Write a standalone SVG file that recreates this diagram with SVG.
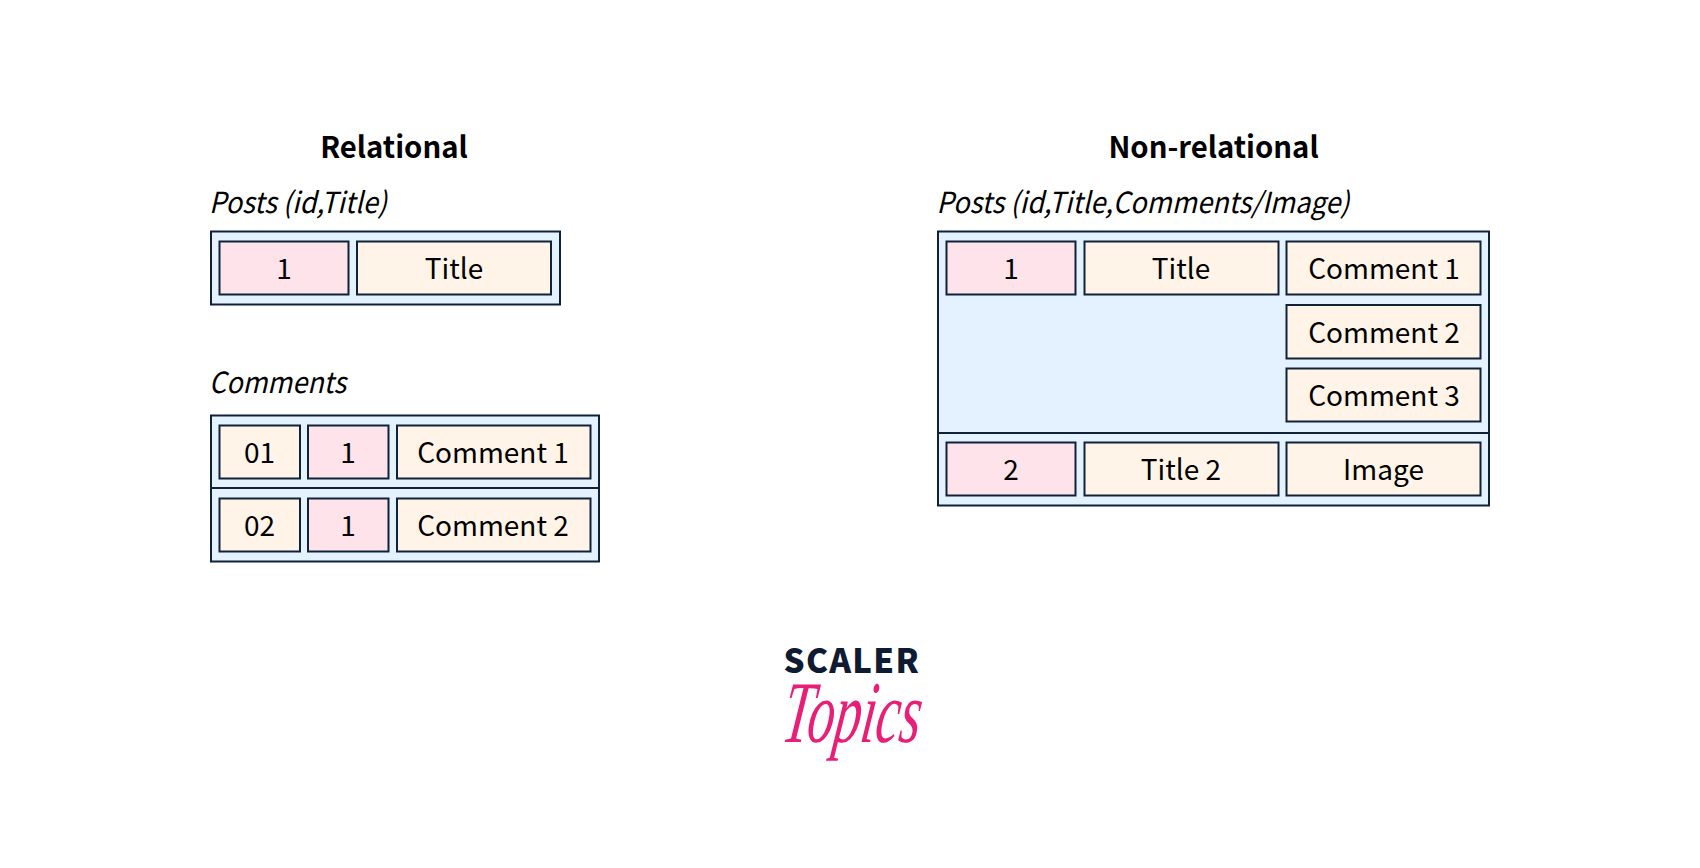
<svg xmlns="http://www.w3.org/2000/svg" width="1700" height="868" viewBox="0 0 1700 868">
<style>
text{font-family:"Noto Sans CJK SC","Noto Sans","Liberation Sans",sans-serif;fill:#000}
.h{font-size:29.300px;font-weight:700;text-anchor:middle}
.l{font-size:29px;font-style:italic;font-weight:400}
.t{font-size:28px;text-anchor:middle}
.o{fill:#e3f2fe;stroke:#0f2238;stroke-width:2}
.p{fill:#fee3ea;stroke:#0f2238;stroke-width:2}
.c{fill:#fff4e7;stroke:#0f2238;stroke-width:2}
.d{stroke:#0f2238;stroke-width:2;fill:none}
</style>
<rect width="1700" height="868" fill="#fff"/>
<text class="h" x="394" y="157.500">Relational</text>
<text class="h" x="1213.500" y="157.500">Non-relational</text>
<g id="posts-relational">
<text class="l" x="209" y="213" textLength="178" lengthAdjust="spacingAndGlyphs">Posts (id,Title)</text>
<rect class="o" x="211" y="231.500" width="349" height="73"/>
<g id="r1-id"><rect class="p" x="219.500" y="241.500" width="129" height="53"/><text class="t" x="284" y="279">1</text></g>
<g id="r1-title"><rect class="c" x="357" y="241.500" width="194" height="53"/><text class="t" x="454" y="279">Title</text></g>
</g>
<g id="comments-relational">
<text class="l" x="209" y="393" textLength="137" lengthAdjust="spacingAndGlyphs">Comments</text>
<rect class="o" x="211" y="415.500" width="388" height="146"/>
<path class="d" d="M211 488H599"/>
<g id="c1-id"><rect class="c" x="219.500" y="425.500" width="80.500" height="53"/><text class="t" x="259.500" y="463">01</text></g>
<g id="c1-post"><rect class="p" x="308" y="425.500" width="80.500" height="53"/><text class="t" x="348" y="463">1</text></g>
<g id="c1-text"><rect class="c" x="397" y="425.500" width="193.500" height="53"/><text class="t" x="493" y="463">Comment 1</text></g>
<g id="c2-id"><rect class="c" x="219.500" y="498.500" width="80.500" height="53"/><text class="t" x="259.500" y="536">02</text></g>
<g id="c2-post"><rect class="p" x="308" y="498.500" width="80.500" height="53"/><text class="t" x="348" y="536">1</text></g>
<g id="c2-text"><rect class="c" x="397" y="498.500" width="193.500" height="53"/><text class="t" x="493" y="536">Comment 2</text></g>
</g>
<g id="posts-nonrelational">
<text class="l" x="936.500" y="213" textLength="413" lengthAdjust="spacingAndGlyphs">Posts (id,Title,Comments/Image)</text>
<rect class="o" x="938" y="231.500" width="551" height="274"/>
<path class="d" d="M938 433H1489"/>
<g id="n1-id"><rect class="p" x="946.500" y="241.500" width="129" height="53"/><text class="t" x="1011" y="279">1</text></g>
<g id="n1-title"><rect class="c" x="1084.500" y="241.500" width="194" height="53"/><text class="t" x="1181" y="279">Title</text></g>
<g id="n1-c1"><rect class="c" x="1286.500" y="241.500" width="194" height="53"/><text class="t" x="1384" y="279">Comment 1</text></g>
<g id="n1-c2"><rect class="c" x="1286.500" y="305" width="194" height="53.500"/><text class="t" x="1384" y="343">Comment 2</text></g>
<g id="n1-c3"><rect class="c" x="1286.500" y="368.500" width="194" height="53"/><text class="t" x="1384" y="406">Comment 3</text></g>
<g id="n2-id"><rect class="p" x="946.500" y="442.500" width="129" height="53"/><text class="t" x="1011" y="480">2</text></g>
<g id="n2-title"><rect class="c" x="1084.500" y="442.500" width="194" height="53"/><text class="t" x="1181" y="480">Title 2</text></g>
<g id="n2-image"><rect class="c" x="1286.500" y="442.500" width="194" height="53"/><text class="t" x="1383.500" y="480">Image</text></g>
</g>
<g id="logo">
<text x="783.500" y="673" style="font-size:33px;font-weight:900;fill:#0f1b33;letter-spacing:1.300px">SCALER</text>
<text transform="translate(780 742) skewX(-8)" x="0" y="0" style="font-family:'Liberation Serif',serif;font-size:88px;font-style:italic;fill:#e91e76" textLength="138" lengthAdjust="spacingAndGlyphs">Topics</text>
</g>
</svg>
